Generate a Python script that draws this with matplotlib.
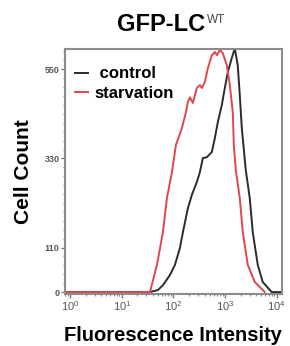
import numpy as np
import matplotlib
matplotlib.use("Agg")
import matplotlib.pyplot as plt
from matplotlib.ticker import MultipleLocator, LogLocator

plt.rcParams['font.family'] = ['Liberation Sans', 'DejaVu Sans']

# log10 fluorescence intensity and cell counts
control_log = [-0.1, 1.546, 1.70, 1.797, 1.932, 2.029, 2.126, 2.184, 2.280, 2.357, 2.454,
               2.512, 2.570, 2.647, 2.744, 2.802, 2.860, 2.937, 2.995, 3.053, 3.130,
               3.188, 3.246, 3.285, 3.324, 3.401, 3.478, 3.536, 3.633, 3.729, 3.903, 4.1]
control_cnt = [0, 0, 5, 17, 42, 67, 109, 148, 207, 240, 272,
               296, 331, 333, 346, 380, 420, 462, 504, 543, 578,
               602, 560, 486, 405, 301, 232, 148, 67, 25, 0, 0]

starv_log = [-0.1, 1.546, 1.681, 1.797, 1.874, 1.971, 2.048, 2.164, 2.242, 2.280, 2.319,
             2.377, 2.454, 2.512, 2.551, 2.609, 2.667, 2.744, 2.802, 2.841, 2.899,
             2.957, 3.034, 3.092, 3.150, 3.169, 3.208, 3.285, 3.343, 3.440, 3.575, 3.768]
starv_cnt = [0, 0, 67, 148, 232, 296, 363, 405, 444, 469, 481,
             467, 504, 511, 504, 519, 553, 585, 593, 585, 598,
             590, 560, 511, 444, 363, 301, 232, 148, 67, 25, 0]

yticks = [0, 110, 330, 550]
ytick_labels = ["0", "110", "330", "550"]

fig = plt.figure(figsize=(2.9, 3.46), dpi=100)
ax = fig.add_axes([0.224, 0.150, 0.748, 0.708])

ax.plot(10 ** np.array(control_log), control_cnt, color='#2b2b2b', lw=1.4, label=' control')
ax.plot(10 ** np.array(starv_log), starv_cnt, color='#e0474c', lw=1.4, label='starvation')

ax.set_xscale('log')
ax.set_xlim(10 ** -0.1, 10 ** 4.1)
ax.set_ylim(-5, 600)

ax.set_yticks(yticks)
ax.set_yticklabels(ytick_labels)
ax.yaxis.set_minor_locator(MultipleLocator(22))
ax.xaxis.set_major_locator(LogLocator(base=10, numticks=10))
ax.xaxis.set_minor_locator(LogLocator(base=10, subs=np.arange(2, 10), numticks=10))

for s in ax.spines.values():
    s.set_color('#8c8c8c')
    s.set_linewidth(1.5)

ax.tick_params(axis='both', which='major', length=3, width=1, color='#777777',
               labelcolor='#555555', pad=1)
ax.tick_params(axis='y', which='major', labelsize=6.5)
ax.tick_params(axis='x', which='major', labelsize=8)
ax.tick_params(axis='both', which='minor', length=1.5, width=0.8, color='#888888')
for lbl in ax.get_yticklabels():
    lbl.set_fontweight('bold')

ax.set_ylabel('Cell Count', fontsize=15, fontweight='bold', labelpad=8)

fig.text(0.597, 0.014, 'Fluorescence Intensity', fontsize=14.5, fontweight='bold',
         ha='center', va='baseline')

ax.legend(loc='upper left', frameon=False, handlelength=0.8,
          handletextpad=0.4, borderaxespad=0.2, labelspacing=0.25,
          prop={'weight': 'bold', 'size': 12}, bbox_to_anchor=(0.0, 0.97))

fig.text(0.707, 0.930, 'GFP-LC', fontsize=17, fontweight='bold', ha='right', va='center')
fig.text(0.712, 0.942, 'WT', fontsize=8.5, color='#444444', ha='left', va='center')

fig.savefig('out.png', dpi=100)
